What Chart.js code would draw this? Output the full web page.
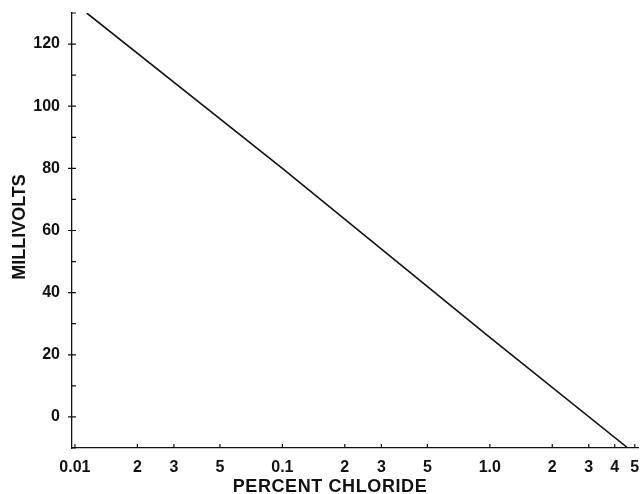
<!DOCTYPE html>
<html>
<head>
<meta charset="utf-8">
<script src="https://cdn.jsdelivr.net/npm/chart.js@4/dist/chart.umd.min.js"></script>
<style>
  html, body { margin: 0; padding: 0; background: #fff; }
  #wrap { width: 640px; height: 494px; position: relative; }
</style>
</head>
<body>
<div id="wrap"><canvas id="c" width="640" height="494"></canvas></div>
<script>
// ---- data ----
const chlorideX = [0.0114, 0.1, 1.0, 4.63];   // percent chloride
const millivoltsY = [130, 80, 25.6, -10];      // millivolts

const xTickValues = [0.01, 0.02, 0.03, 0.05, 0.1, 0.2, 0.3, 0.5, 1.0, 2, 3, 4, 5];
const xTickLabels = ['0.01', '2', '3', '5', '0.1', '2', '3', '5', '1.0', '2', '3', '4', '5'];
const yTickValues = [0, 20, 40, 60, 80, 100, 120];
const yTickLabels = ['0', '20', '40', '60', '80', '100', '120'];
const yMinorValues = [-10, 10, 30, 50, 70, 90, 110, 130];

const xTitle = 'PERCENT CHLORIDE';
const yTitle = 'MILLIVOLTS';

const INK = '#111';
const FONT = '"Liberation Sans", Arial, Helvetica, sans-serif';

const inwardTicks = {
  id: 'inwardTicks',
  afterDraw(chart) {
    const ctx = chart.ctx;
    const xs = chart.scales.x, ys = chart.scales.y;
    const area = chart.chartArea;
    ctx.save();
    ctx.strokeStyle = INK;
    ctx.lineWidth = 1.2;
    ctx.beginPath();
    yTickValues.forEach(v => {
      const p = ys.getPixelForValue(v);
      ctx.moveTo(area.left - 4, p); ctx.lineTo(area.left + 4, p);
    });
    yMinorValues.forEach(v => {
      const p = ys.getPixelForValue(v);
      ctx.moveTo(area.left, p); ctx.lineTo(area.left + 4, p);
    });
    xTickValues.forEach(v => {
      const p = xs.getPixelForValue(v);
      ctx.moveTo(p, area.bottom); ctx.lineTo(p, area.bottom - 4);
    });
    ctx.stroke();

    // axis titles
    ctx.fillStyle = INK;
    ctx.font = 'bold 18px ' + FONT;
    ctx.textAlign = 'center';
    ctx.textBaseline = 'middle';
    try { ctx.letterSpacing = '0.6px'; } catch (e) {}
    ctx.fillText(xTitle, 330, 487);
    try { ctx.letterSpacing = '0px'; } catch (e) {}
    ctx.translate(20, 227);
    ctx.rotate(-Math.PI / 2);
    ctx.fillText(yTitle, 0, 0);
    ctx.restore();
  }
};

new Chart(document.getElementById('c'), {
  type: 'line',
  data: {
    datasets: [{
      data: chlorideX.map((x, i) => ({ x: x, y: millivoltsY[i] })),
      borderColor: INK,
      borderWidth: 1.6,
      pointRadius: 0,
      fill: false,
      tension: 0
    }]
  },
  options: {
    responsive: false,
    animation: false,
    layout: { padding: { top: 13, right: 2, left: 0, bottom: 0 } },
    plugins: { legend: { display: false }, tooltip: { enabled: false } },
    scales: {
      x: {
        type: 'logarithmic',
        min: 0.00968,
        max: 5.18,
        grid: { display: false, drawTicks: false },
        border: { display: true, color: INK, width: 1.3 },
        afterBuildTicks(scale) { scale.ticks = xTickValues.map(v => ({ value: v })); },
        afterFit(scale) { scale.height = 46; scale.paddingLeft = 0; scale.paddingRight = 0; },
        ticks: {
          autoSkip: false,
          maxRotation: 0,
          padding: 10,
          color: INK,
          font: { family: FONT, size: 16, weight: 'bold' },
          callback: (v) => { const i = xTickValues.indexOf(v); return i >= 0 ? xTickLabels[i] : ''; }
        }
      },
      y: {
        type: 'linear',
        min: -10,
        max: 130,
        grid: { display: false, drawTicks: false },
        border: { display: true, color: INK, width: 1.3 },
        afterBuildTicks(scale) { scale.ticks = yTickValues.map(v => ({ value: v })); },
        afterFit(scale) { scale.width = 72; scale.paddingTop = 0; scale.paddingBottom = 0; },
        ticks: {
          padding: 12,
          color: INK,
          font: { family: FONT, size: 16, weight: 'bold' },
          callback: (v) => { const i = yTickValues.indexOf(v); return i >= 0 ? yTickLabels[i] : ''; }
        }
      }
    }
  },
  plugins: [inwardTicks]
});
</script>
</body>
</html>
